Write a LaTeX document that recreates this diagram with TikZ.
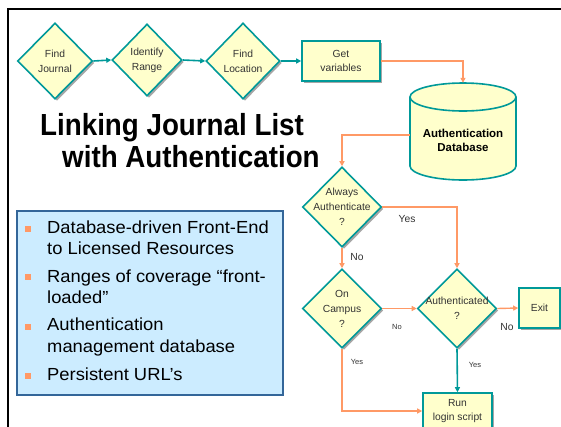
\documentclass[tikz,border=0pt]{standalone}
\usepackage{fontspec}
\setmainfont{Liberation Sans}
\usetikzlibrary{shapes.geometric,arrows.meta,shadows}

\definecolor{flowteal}{HTML}{009999}
\definecolor{paleyel}{HTML}{FFFFCC}
\definecolor{floworange}{HTML}{FF9966}
\definecolor{boxblue}{HTML}{CCECFF}
\definecolor{boxedge}{HTML}{336699}
\definecolor{ink}{HTML}{333333}

\newcommand{\wideline}[1]{\scalebox{1.05}[1]{#1}}

\tikzset{
  sh/.style={drop shadow={shadow xshift=2pt, shadow yshift=-2pt, fill=black!35, opacity=1}},
  lbl/.style={text=ink, font=\fontsize{10.3}{15}\selectfont, align=center},
  decision/.style={diamond, draw=flowteal, line width=1.6pt, fill=paleyel, inner sep=0pt, sh},
  stepbox/.style={rectangle, draw=flowteal, line width=1.6pt, fill=paleyel, inner sep=0pt, sh, lbl, font=\fontsize{10.3}{14}\selectfont},
  tealarr/.style={draw=flowteal, line width=1.6pt, -{Triangle[length=5pt,width=5pt]}},
  orarr/.style={draw=floworange, line width=1.4pt, -{Triangle[length=5pt,width=5pt]}},
  ans/.style={text=ink, font=\fontsize{10.3}{12}\selectfont, inner sep=0pt},
  smallans/.style={text=ink, font=\fontsize{7.5}{9}\selectfont, inner sep=0pt},
  bul/.style={rectangle, fill=floworange, minimum size=6pt, inner sep=0pt},
  bultext/.style={anchor=base west, inner sep=0pt, text=black, font=\fontsize{17.5}{21}\selectfont},
  headline/.style={anchor=base west, inner sep=0pt, text=black, font=\fontsize{30.5}{32}\selectfont\bfseries}
}

\begin{document}
\begin{tikzpicture}[x=1pt, y=-1pt]
\useasboundingbox (0,0) rectangle (561,426);
\clip (0,0) rectangle (561,426);

% slide frame
\draw[line width=2.5pt] (562,9) -- (8,9) -- (8,427);

% top row of steps
\node[decision, minimum width=75pt, minimum height=76pt,
      label={[lbl]center:{Find\\Journal}}] (fj) at (55,61) {};
\node[decision, minimum width=70pt, minimum height=72pt,
      label={[lbl]center:{Identify\\Range}}] (ir) at (147,60) {};
\node[decision, minimum width=74pt, minimum height=76pt,
      label={[lbl]center:{Find\\Location}}] (fl) at (243,61) {};
\node[stepbox, minimum width=78pt, minimum height=40pt] (gv) at (341,61) {Get\\variables};

% database cylinder
\node[minimum width=106pt, minimum height=97pt, inner sep=0pt] (db) at (463,131.5) {};
\fill[paleyel] (410,97) -- (410,166) arc[start angle=180, end angle=360, x radius=53pt, y radius=14pt] -- (516,97) -- cycle;
\draw[flowteal, line width=1.6pt] (410,97) -- (410,166) arc[start angle=180, end angle=360, x radius=53pt, y radius=14pt] -- (516,97);
\draw[flowteal, line width=1.6pt, fill=paleyel] (463,97) ellipse[x radius=53pt, y radius=14pt];
\node[font=\fontsize{11.5}{14}\selectfont\bfseries, align=center, inner sep=0pt] (dbtxt) at (463,140) {Authentication\\Database};

% decisions
\node[decision, minimum width=79pt, minimum height=80pt,
      label={[lbl]center:{Always\\Authenticate\\?}}] (always) at (342,207) {};
\node[decision, minimum width=79pt, minimum height=79pt,
      label={[lbl]center:{On\\Campus\\?}}] (camp) at (342,308.5) {};
\node[decision, minimum width=79pt, minimum height=79pt,
      label={[lbl]center:{Authenticated\\?}}] (auth) at (457,308.5) {};
\node[stepbox, minimum width=41pt, minimum height=40pt] (exit) at (539.5,308) {Exit};
\node[stepbox, minimum width=69pt, minimum height=36pt] (run) at (457.5,411) {Run\\login script};

% connectors
\draw[tealarr] (fj.east) -- (ir.west);
\draw[tealarr] (ir.east) -- (fl.west);
\draw[tealarr] (fl.east) -- (gv.west);
\draw[orarr] (gv.east) -| (db.north);
\draw[orarr] ([yshift=-3.5pt]db.west) -| (always.north);
\draw[orarr] (always.east) -| (auth.north);
\draw[orarr] (always.south) -- (camp.north);
\draw[orarr] (camp.east) -- (auth.west);
\draw[orarr] (auth.east) -- (exit.west);
\draw[tealarr] (auth.south) -- (run.north);
\draw[orarr] (camp.south) |- (run.west);

% branch answers
\node[ans] (a1) at (407,219) {Yes};
\node[ans] (a2) at (357,257) {No};
\node[smallans] (a3) at (397,327) {No};
\node[ans] (a4) at (507,327) {No};
\node[smallans] (a5) at (357,362) {Yes};
\node[smallans] (a6) at (475,365) {Yes};

% headline
\node[headline] (h1) at (40,135) {\scalebox{0.91}[1]{Linking Journal List}};
\node[headline] (h2) at (62,167) {\scalebox{0.91}[1]{with Authentication}};

% summary box
\node[draw=boxedge, line width=1.5pt, fill=boxblue, minimum width=266pt, minimum height=184pt, inner sep=0pt] (summary) at (150,303) {};
\node[bul] (s1) at (27.5,229) {};
\node[bul] (s2) at (27.5,277) {};
\node[bul] (s3) at (27.5,327) {};
\node[bul] (s4) at (27.5,376) {};
\node[bultext] (t1) at (47,233) {\wideline{Database-driven Front-End}};
\node[bultext] (t2) at (47,254) {\wideline{to Licensed Resources}};
\node[bultext] (t3) at (47,282) {\wideline{Ranges of coverage “front-}};
\node[bultext] (t4) at (47,303) {\wideline{loaded”}};
\node[bultext] (t5) at (47,330) {\wideline{Authentication}};
\node[bultext] (t6) at (47,352) {\wideline{management database}};
\node[bultext] (t7) at (47,380) {\wideline{Persistent URL’s}};
\end{tikzpicture}
\end{document}
